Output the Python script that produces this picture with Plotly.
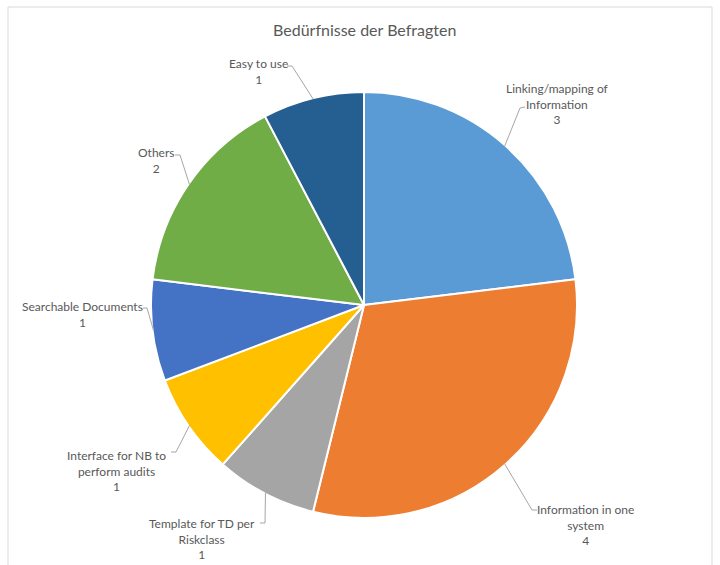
import math
import plotly.graph_objects as go

# Survey answers: needs of the respondents
categories = [
    "Linking/mapping of Information",
    "Information in one system",
    "Template for TD per Riskclass",
    "Interface for NB to perform audits",
    "Searchable Documents",
    "Others",
    "Easy to use",
]
counts = [3, 4, 1, 1, 1, 2, 1]
label_lines = [
    ["Linking/mapping of", "Information"],
    ["Information in one", "system"],
    ["Template for TD per", "Riskclass"],
    ["Interface for NB to", "perform audits"],
    ["Searchable Documents"],
    ["Others"],
    ["Easy to use"],
]
colors = ["#5B9BD5", "#ED7D31", "#A5A5A5", "#FFC000", "#4472C4", "#70AD47", "#255E91"]

W, H = 720, 565
CX, CY, R = 364, 305, 213  # pie centre / radius in pixels

# label centre and leader-line elbow / tick end (pixels)
label_xy = [(557, 104), (585, 525), (202, 539), (116, 471), (82, 314), (156, 160), (258, 71)]
elbow_xy = [(520, 108), (532, 510), (265, 523), (176, 452), (147, 308), (180, 155), (292, 66)]
tick_xy = [(525, 107), (537, 510), (260, 523), (171, 452), (143, 308), (175, 155), (287, 66)]


def px(x):
    return x / W


def py(y):
    return 1 - y / H


fig = go.Figure()
fig.add_trace(go.Pie(
    labels=categories,
    values=counts,
    sort=False,
    direction="clockwise",
    rotation=0,
    marker=dict(colors=colors, line=dict(color="white", width=2)),
    textinfo="none",
    hoverinfo="label+value",
    showlegend=False,
    domain=dict(x=[px(CX - R), px(CX + R)], y=[py(CY + R), py(CY - R)]),
))

total = sum(counts)
shapes = []
annotations = []
cum = 0
for i, v in enumerate(counts):
    mid = (cum + v / 2) / total * 2 * math.pi
    cum += v
    ex = CX + (R - 1) * math.sin(mid)
    ey = CY - (R - 1) * math.cos(mid)
    (bx, by), (tx, ty) = elbow_xy[i], tick_xy[i]
    path = f"M {px(ex)} {py(ey)} L {px(bx)} {py(by)} L {px(tx)} {py(ty)}"
    shapes.append(dict(type="path", xref="paper", yref="paper", path=path,
                       line=dict(color="#A6A6A6", width=1)))
    lx, ly = label_xy[i]
    text = "<br>".join(label_lines[i] + [str(v)])
    annotations.append(dict(x=px(lx), y=py(ly), xref="paper", yref="paper",
                            text=text, showarrow=False, align="center",
                            xanchor="center", yanchor="middle",
                            font=dict(family="Lato, Open Sans, sans-serif", size=12, color="#595959")))

# chart-area frame
shapes.append(dict(type="rect", xref="paper", yref="paper",
                   x0=px(8), x1=px(712), y0=py(575), y1=py(7),
                   line=dict(color="#D9D9D9", width=1), fillcolor="rgba(0,0,0,0)"))

annotations.append(dict(x=px(364), y=py(29), xref="paper", yref="paper",
                        text="Bedürfnisse der Befragten", showarrow=False,
                        xanchor="center", yanchor="middle",
                        font=dict(family="Lato, Open Sans, sans-serif", size=16, color="#595959")))

fig.update_layout(
    width=W, height=H,
    margin=dict(l=0, r=0, t=0, b=0),
    paper_bgcolor="white",
    plot_bgcolor="white",
    shapes=shapes,
    annotations=annotations,
)

fig.write_html("out.html")
